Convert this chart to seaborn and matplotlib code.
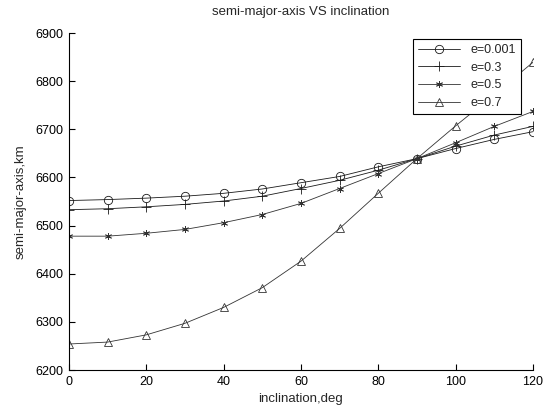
import pandas as pd
import numpy as np
import matplotlib
matplotlib.use("Agg")
import matplotlib.pyplot as plt
import seaborn as sns

# data
inclination = [0, 10, 20, 30, 40, 50, 60, 70, 80, 90, 100, 110, 120]
a_e0001 = [6552, 6554, 6557, 6561, 6567, 6576, 6589, 6602, 6622, 6639, 6660, 6679, 6695]
a_e03 = [6533, 6535, 6539, 6544, 6551, 6561, 6577, 6594, 6615, 6639, 6665, 6688, 6706]
a_e05 = [6478, 6478, 6484, 6492, 6506, 6523, 6546, 6577, 6608, 6639, 6672, 6706, 6737]
a_e07 = [6254, 6258, 6273, 6297, 6330, 6371, 6426, 6494, 6567, 6639, 6707, 6772, 6839]
labels = ["e=0.001", "e=0.3", "e=0.5", "e=0.7"]

series = [a_e0001, a_e03, a_e05, a_e07]
markers = ["o", "+", (6, 2, 0), "^"]
msizes = [6, 7, 5, 6]
colors = ["#1a1a1a", "#1a1a1a", "#333333", "#333333"]

sns.set_theme(style="white")
plt.rcParams["font.family"] = ["Liberation Sans", "DejaVu Sans"]
plt.rcParams["font.size"] = 9

fig = plt.figure(figsize=(5.51, 4.07), dpi=100)
ax = fig.add_axes([0.1252, 0.0909, 0.8419, 0.828])

for vals, lab, m, ms, c in zip(series, labels, markers, msizes, colors):
    df = pd.DataFrame({"inclination": inclination, "a": vals})
    sns.lineplot(data=df, x="inclination", y="a", ax=ax, label=lab,
                 color=c, linewidth=0.6, marker=m, markersize=ms,
                 markerfacecolor="none", markeredgecolor=c,
                 markeredgewidth=0.6)

ax.set_xlim(0, 120)
ax.set_ylim(6200, 6900)
ax.set_xticks(range(0, 121, 20))
ax.set_yticks(range(6200, 6901, 100))
ax.tick_params(direction="in", length=4, width=0.8, labelsize=9, colors="black",
               bottom=True, left=True, pad=4)
for s in ["top", "right"]:
    ax.spines[s].set_visible(False)
for s in ["left", "bottom"]:
    ax.spines[s].set_color("black")
    ax.spines[s].set_linewidth(0.8)

ax.set_title("semi-major-axis VS inclination", fontsize=9.5, pad=13)
ax.set_xlabel("inclination,deg", fontsize=9.5, labelpad=4)
ax.set_ylabel("semi-major-axis,km", fontsize=9.5, labelpad=6)

leg = ax.legend(loc="upper right", bbox_to_anchor=(0.974, 0.982), borderaxespad=0,
                fancybox=False, framealpha=1, edgecolor="black", fontsize=9,
                handlelength=3.4, labelspacing=0.45, borderpad=0.4)
leg.get_frame().set_linewidth(0.8)

fig.savefig("out.png", dpi=100)
